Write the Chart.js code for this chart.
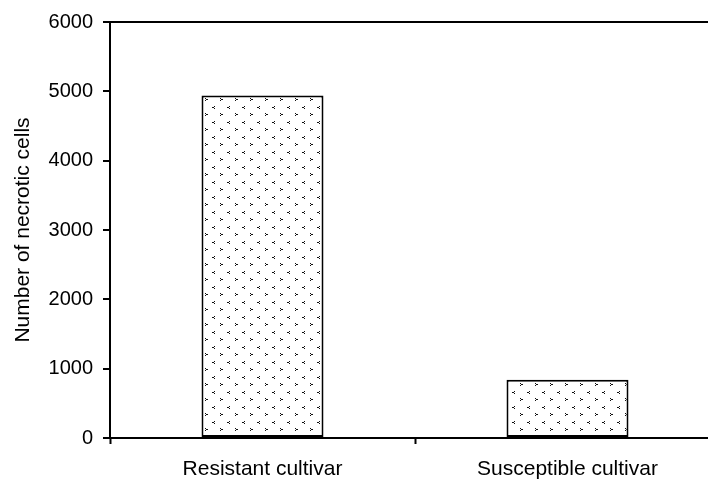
<!DOCTYPE html>
<html>
<head>
<meta charset="utf-8">
<script src="https://cdn.jsdelivr.net/npm/chart.js@4"></script>
<style>
  html, body { margin: 0; padding: 0; background: #fff; overflow: hidden; }
  canvas { display: block; }
</style>
</head>
<body>
<canvas id="necroticChart" width="720" height="480"></canvas>
<script>
// values
var cultivars = ["Resistant cultivar", "Susceptible cultivar"];
var necroticCells = [4940, 840];
var yMin = 0, yMax = 6000, yStep = 1000;

// dotted "<" ">" fill like the original
function makePattern() {
  var c = document.createElement("canvas");
  c.width = 15; c.height = 15;
  var g = c.getContext("2d");
  g.fillStyle = "#fff";
  g.fillRect(0, 0, 15, 15);
  g.fillStyle = "#111";
  // "<"
  g.fillRect(4, 1, 1, 1); g.fillRect(3, 2, 1, 1); g.fillRect(2, 2, 1, 1); g.fillRect(4, 3, 1, 1);
  // ">"
  g.fillRect(10, 8, 1, 1); g.fillRect(11, 9, 1, 1); g.fillRect(12, 9, 1, 1); g.fillRect(10, 10, 1, 1);
  return document.getElementById("necroticChart").getContext("2d").createPattern(c, "repeat");
}

var canvas = document.getElementById("necroticChart");
var myChart = new Chart(canvas, {
  type: 'bar',
  data: {
    labels: cultivars,
    datasets: [
      {
        data: necroticCells,
        backgroundColor: makePattern(),
        borderColor: "#000",
        borderWidth: 2,
        borderSkipped: false,
        barPercentage: 0.4,
        categoryPercentage: 1.0
      }
    ]
  },
  options: {
    responsive: false,
    animation: false,
    layout: { padding: { top: 22, right: 0, left: 0, bottom: 0 } },
    plugins: { legend: { display: false }, tooltip: { enabled: false } },
    scales: {
      x: {
        offset: true,
        border: { display: true, color: "#000", width: 2 },
        grid: {
          offset: true,
          drawOnChartArea: false,
          tickColor: "#000",
          tickWidth: 2,
          tickLength: 6
        },
        ticks: {
          color: "#000",
          padding: 13,
          font: { family: "Liberation Sans", size: 21 }
        },
        afterFit: function(s) { s.height = 42; }
      },
      y: {
        min: yMin,
        max: yMax,
        border: { display: true, color: "#000", width: 2 },
        grid: {
          color: function(ctx) { return ctx.tick && ctx.tick.value === yMax ? "#000" : "rgba(0,0,0,0)"; },
          lineWidth: 2,
          tickColor: "#000",
          tickWidth: 2,
          tickLength: 7
        },
        ticks: {
          stepSize: yStep,
          color: "#000",
          padding: 10,
          font: { family: "Liberation Sans", size: 20 },
          callback: function(v) { return String(v); }
        },
        title: {
          display: true,
          text: "Number of necrotic cells",
          color: "#000",
          padding: { top: 11, bottom: 0 },
          font: { family: "Liberation Sans", size: 21 }
        },
        afterFit: function(s) { s.width = 110; }
      }
    }
  }
});
</script>
</body>
</html>
